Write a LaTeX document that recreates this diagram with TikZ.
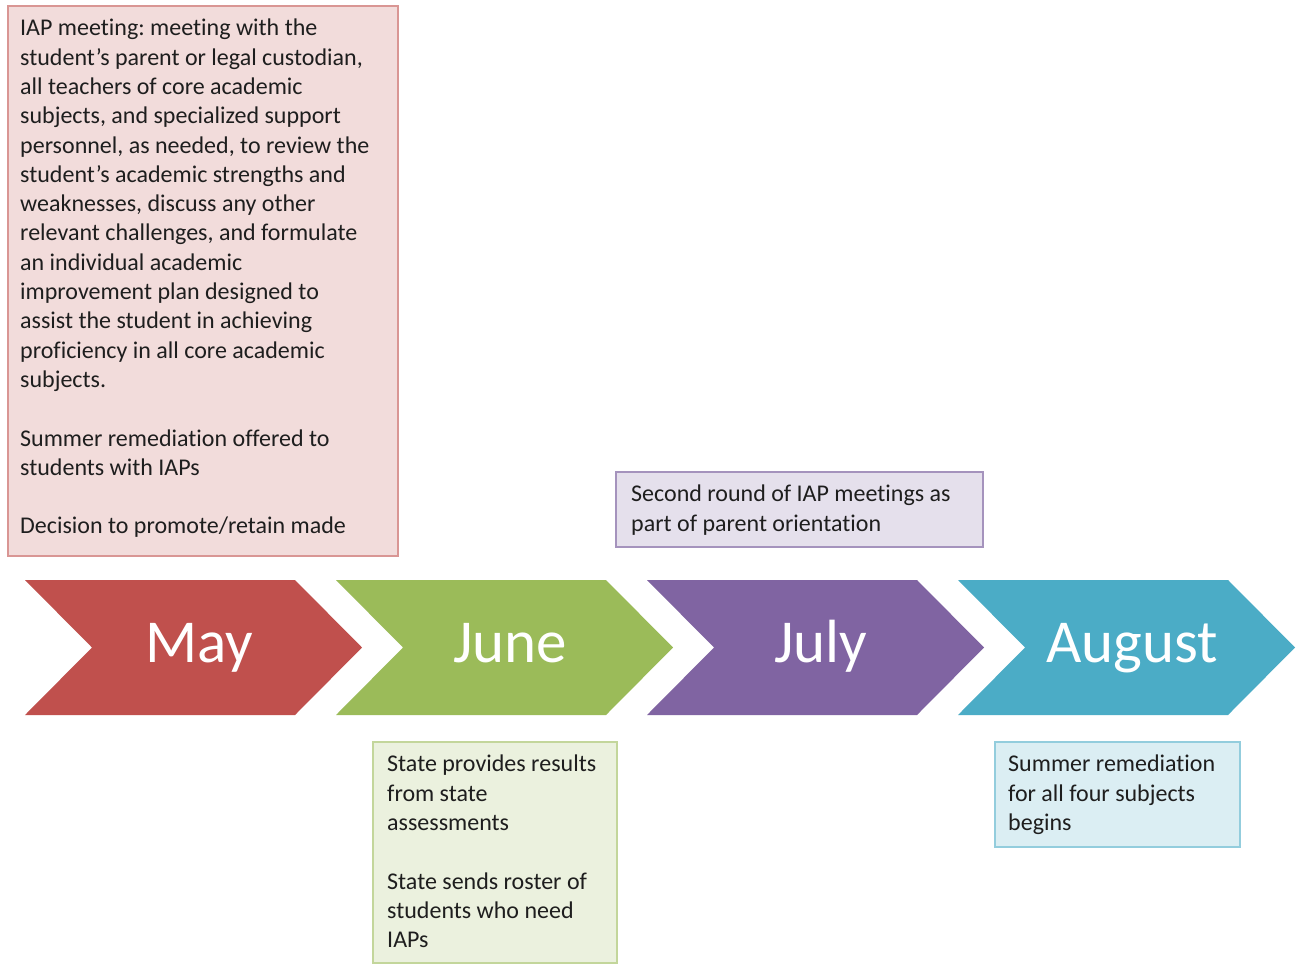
\documentclass[tikz,border=0pt]{standalone}
\usepackage{fontspec}
\setmainfont{Carlito}[Ligatures=CommonOff]
\frenchspacing
\definecolor{mayred}{HTML}{C0504D}
\definecolor{junegreen}{HTML}{9BBB59}
\definecolor{julypurple}{HTML}{8064A2}
\definecolor{augteal}{HTML}{4BACC6}
\definecolor{pinkfill}{HTML}{F2DCDB}
\definecolor{pinkline}{HTML}{D99694}
\definecolor{lilacfill}{HTML}{E5E0EC}
\definecolor{lilacline}{HTML}{A593BD}
\definecolor{greenfill}{HTML}{EBF1DE}
\definecolor{greenline}{HTML}{C3D69B}
\definecolor{tealfill}{HTML}{DBEEF3}
\definecolor{tealline}{HTML}{93CDDD}
\definecolor{textdark}{HTML}{1E1E1E}
\begin{document}
\begin{tikzpicture}[x=1pt,y=-1pt,
  infobox/.style={draw, line width=1.5pt, rectangle, inner sep=0pt, anchor=north west},
  infotext/.style={font=\fontsize{24}{29.3}\selectfont, align=left, inner sep=0pt, text=textdark, anchor=north west},
  month/.style={font=\fontsize{61}{70}\selectfont, text=white, inner sep=0pt, anchor=base}]
\useasboundingbox (0,0) rectangle (1297,964);
\fill[white] (0,0) rectangle (1297,964);

% chevrons
\foreach \x/\c/\m in {25/mayred/May, 336/junegreen/June, 647/julypurple/July, 958/augteal/August}{
  \fill[\c] (\x,580) -- ++(270,0) -- ++(67,67.5) -- ++(-67,67.5) -- ++(-270,0) -- ++(67,-67.5) -- cycle;
  \node[month] (m\m) at (\x+174,662) {\m};
}

% May box
\node[infobox, fill=pinkfill, draw=pinkline, minimum width=390pt, minimum height=550pt] (maybox) at (7,5) {};
\node[infotext] (maytext) at ([xshift=13pt,yshift=-14pt]maybox.north west) {IAP meeting: meeting with the\\
student’s parent or legal custodian,\\
all teachers of core academic\\
subjects, and specialized support\\
personnel, as needed, to review the\\
student’s academic strengths and\\
weaknesses, discuss any other\\
relevant challenges, and formulate\\
an individual academic\\
improvement plan designed to\\
assist the student in achieving\\
proficiency in all core academic\\
subjects.\\[29.3pt]
Summer remediation offered to\\
students with IAPs\\[29.3pt]
Decision to promote/retain made};

% July box
\node[infobox, fill=lilacfill, draw=lilacline, minimum width=367pt, minimum height=75pt] (julybox) at (615,471) {};
\node[infotext] (julytext) at ([xshift=16pt,yshift=-14pt]julybox.north west) {Second round of IAP meetings as\\
part of parent orientation};

% June box
\node[infobox, fill=greenfill, draw=greenline, minimum width=244pt, minimum height=221pt] (junebox) at (372,741) {};
\node[infotext] (junetext) at ([xshift=15pt,yshift=-14pt]junebox.north west) {State provides results\\
from state\\
assessments\\[29.3pt]
State sends roster of\\
students who need\\
IAPs};

% August box
\node[infobox, fill=tealfill, draw=tealline, minimum width=245pt, minimum height=105pt] (augbox) at (994,741) {};
\node[infotext] (augtext) at ([xshift=14pt,yshift=-14pt]augbox.north west) {Summer remediation\\
for all four subjects\\
begins};
\end{tikzpicture}
\end{document}
